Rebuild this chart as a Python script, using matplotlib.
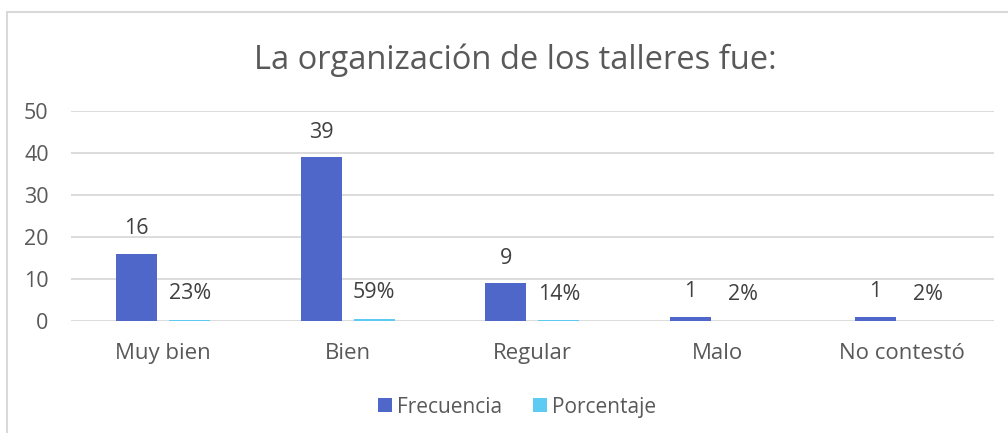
import matplotlib.pyplot as plt
from matplotlib.patches import Rectangle
import numpy as np

categories = ["Muy bien", "Bien", "Regular", "Malo", "No contestó"]
frecuencia = [16, 39, 9, 1, 1]
porcentaje = [0.23, 0.59, 0.14, 0.02, 0.02]

plt.rcParams["font.family"] = ["Open Sans", "DejaVu Sans"]
text_color = "#595959"
grid_color = "#D9D9D9"
blue = "#4E67C8"
cyan = "#5ECCF2"

fig = plt.figure(figsize=(10.08, 4.33), dpi=100)
ax = fig.add_axes([0.0704, 0.2587, 0.9156, 0.4849])

x = np.arange(len(categories))
w = 0.222
off = 0.1435
b1 = ax.bar(x - off, frecuencia, w, color=blue, label="Frecuencia", zorder=3)
b2 = ax.bar(x + off, porcentaje, w, color=cyan, label="Porcentaje", zorder=3)

for rect, v in zip(b1, frecuencia):
    ax.annotate(str(v), (rect.get_x() + rect.get_width() / 2, rect.get_height()),
                xytext=(0, 18), textcoords="offset points", ha="center", va="center",
                fontsize=15.5, color="#404040")
for rect, v in zip(b2, porcentaje):
    ax.annotate(f"{v:.0%}", (rect.get_x() + rect.get_width() / 2, rect.get_height()),
                xytext=(0, 19), textcoords="offset points", ha="center", va="center",
                fontsize=15.5, color="#404040")

ax.set_xlim(-0.5, len(categories) - 0.5)
ax.set_ylim(0, 50)
ax.set_yticks(range(0, 51, 10))
ax.set_xticks(x)
ax.set_xticklabels(categories)
ax.yaxis.grid(True, color=grid_color, linewidth=1.3, zorder=0)
ax.set_axisbelow(True)
for s in ax.spines.values():
    s.set_visible(False)
ax.tick_params(length=0, labelsize=16, labelcolor=text_color)
ax.tick_params(axis="x", pad=16)
ax.tick_params(axis="y", labelsize=15.5, pad=16)

fig.text(0.511, 0.86, "La organización de los talleres fue:", ha="center", va="center",
         fontsize=23.5, color=text_color)

fig.legend(handles=[b1, b2], loc="center", bbox_to_anchor=(0.513, 0.06), ncol=2,
           frameon=False, fontsize=15, labelcolor=text_color, handlelength=0.65,
           handleheight=0.65, handletextpad=0.25, columnspacing=1.5)

fig.patches.append(Rectangle((7 / 1008, -0.1), 1.2, (433 - 12) / 433 + 0.1,
                             transform=fig.transFigure, fill=False,
                             edgecolor=grid_color, linewidth=1.5))

fig.savefig("out.png", dpi=100)
